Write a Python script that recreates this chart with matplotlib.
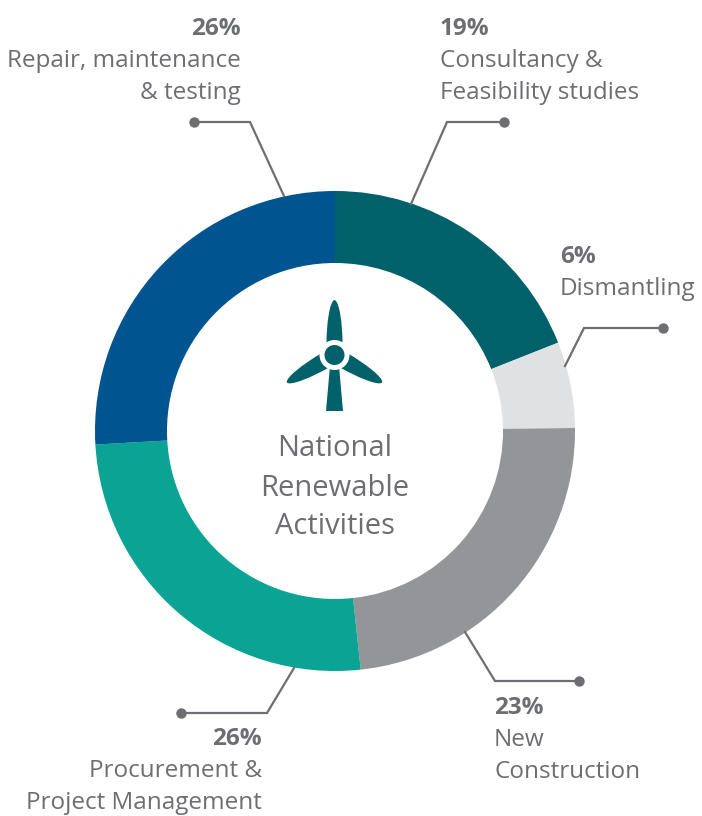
import matplotlib
matplotlib.use("Agg")
import matplotlib.pyplot as plt
from matplotlib.patches import Circle, Polygon, PathPatch
from matplotlib.path import Path
from matplotlib.transforms import Affine2D

plt.rcParams['font.family'] = ['Open Sans', 'DejaVu Sans']

W, H = 702, 816
categories = ["Consultancy &\nFeasibility studies", "Dismantling", "New\nConstruction",
              "Procurement &\nProject Management", "Repair, maintenance\n& testing"]
values = [19, 5.8, 23.49, 25.81, 25.9]
labels_pct = ["19%", "6%", "23%", "26%", "26%"]
colors = ["#00616A", "#E0E1E3", "#939598", "#0AA394", "#00548F"]
center_lines = ["National", "Renewable", "Activities"]
grey = "#6D6E71"

fig = plt.figure(figsize=(W/100, H/100), dpi=100)
ax = fig.add_axes([0, 0, 1, 1])

cx, cy, R = 335, 431, 240
# y axis is inverted (pixel coordinates), so -90 is the top of the picture
ax.pie(values, colors=colors, startangle=-90, counterclock=True, center=(cx, cy), radius=R,
       wedgeprops=dict(width=R-168, linewidth=0), frame=True)
ax.set_xlim(0, W); ax.set_ylim(H, 0); ax.axis("off"); ax.set_aspect("equal")

leaders = [
    [(411, 204), (447, 122), (504, 122)],
    [(565, 366), (584, 328), (663, 328)],
    [(465, 632), (495, 681), (579, 681)],
    [(294, 668), (267, 713), (181, 713)],
    [(284, 196), (250, 122), (194, 122)],
]
for pts in leaders:
    xs, ys = zip(*pts)
    ax.plot(xs, ys, color=grey, lw=1.6, solid_joinstyle="miter", zorder=3)
    ax.plot(xs[-1], ys[-1], "o", color=grey, ms=7.5, mew=0, zorder=4)

fs = 17.5
lh = 32
txt = [
    (440, 29, "left", 0),
    (560, 257, "left", 1),
    (494, 708, "left", 2),
    (262, 739, "right", 3),
    (241, 29, "right", 4),
]
for x, y, ha, i in txt:
    ax.text(x, y, labels_pct[i], ha=ha, va="center", fontsize=fs, fontweight="bold", color=grey)
    for j, line in enumerate(categories[i].split("\n")):
        ax.text(x, y + lh*(j+1), line, ha=ha, va="center", fontsize=fs, color=grey)

for y, s in zip([449, 488, 526], center_lines):
    ax.text(335, y, s, ha="center", va="center", fontsize=21, color=grey)

# turbine icon
teal = "#00616A"
blade = Path([(-8, -12), (-8, -30), (-5, -54), (0, -55), (5, -54), (8, -30), (8, -12), (-8, -12)],
             [Path.MOVETO, Path.CURVE4, Path.CURVE4, Path.CURVE4, Path.CURVE4, Path.CURVE4, Path.CURVE4, Path.CLOSEPOLY])
hub = (334.5, 355)
for ang in [0, 120, 240]:
    t = Affine2D().rotate_deg(ang).translate(*hub) + ax.transData
    ax.add_patch(PathPatch(blade, facecolor=teal, edgecolor="none", transform=t, zorder=5))
ax.add_patch(Polygon([(326, 411), (343, 411), (339, 366), (330, 366)], closed=True,
                     facecolor=teal, edgecolor="none", zorder=5))
ax.add_patch(Circle(hub, 15, facecolor="white", edgecolor="none", zorder=6))
ax.add_patch(Circle(hub, 10, facecolor=teal, edgecolor="none", zorder=7))

fig.savefig("out.png", dpi=100)
